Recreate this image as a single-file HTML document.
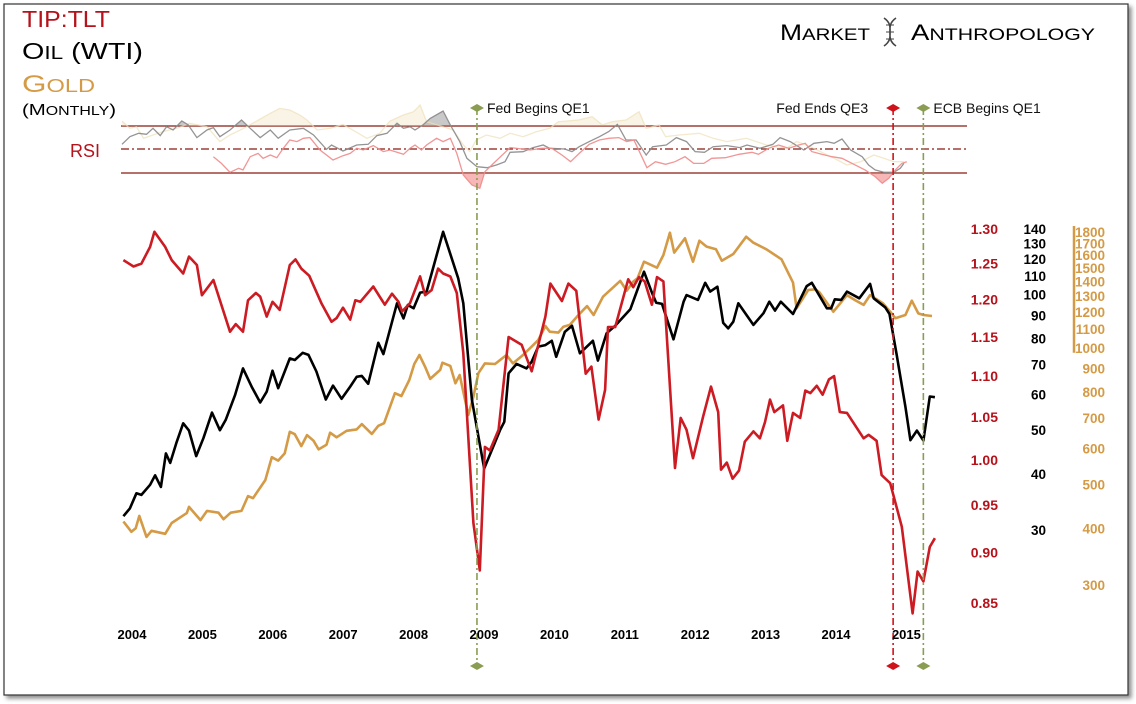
<!DOCTYPE html>
<html><head><meta charset="utf-8"><style>
body{margin:0;background:#fff;width:1136px;height:704px;overflow:hidden;font-family:"Liberation Sans",sans-serif}
svg{position:absolute;left:0;top:0}
</style></head><body>
<svg id="c" width="1136" height="704" viewBox="0 0 1136 704">
<defs>
<filter id="sh" x="-5%" y="-5%" width="110%" height="110%"><feDropShadow dx="3" dy="3" stdDeviation="2" flood-color="#000" flood-opacity="0.45"/></filter>
<clipPath id="above70"><rect x="0" y="0" width="1136" height="126"/></clipPath>
<clipPath id="below30"><rect x="0" y="173" width="1136" height="60"/></clipPath>
</defs>
<rect x="4" y="4" width="1124" height="691" fill="#fff" stroke="#333" stroke-width="1.2" filter="url(#sh)"/>
<g>
<text x="22" y="27" font-size="23" fill="#b5121b" textLength="88" lengthAdjust="spacingAndGlyphs">TIP:TLT</text>
<text x="22" y="59" font-size="23" fill="#000" textLength="121" lengthAdjust="spacingAndGlyphs">O<tspan font-size="18">IL</tspan> (WTI)</text>
<text x="22" y="92" font-size="24" fill="#d49a45" textLength="73" lengthAdjust="spacingAndGlyphs">G<tspan font-size="18">OLD</tspan></text>
<text x="22" y="115" font-size="16" fill="#000" textLength="94" lengthAdjust="spacingAndGlyphs">(M<tspan font-size="12.5">ONTHLY</tspan>)</text>
</g>
<text x="70" y="157" font-size="18" fill="#b5121b">RSI</text>
<g>
<text x="780" y="40" font-size="22" fill="#000" textLength="90" lengthAdjust="spacingAndGlyphs">M<tspan font-size="17">ARKET</tspan></text>
<text x="911" y="40" font-size="22" fill="#000" textLength="184" lengthAdjust="spacingAndGlyphs">A<tspan font-size="17">NTHROPOLOGY</tspan></text>
<g stroke="#444" stroke-width="1.6" fill="none">
<path d="M884 18 C897 27,883 37,896 46 M896 18 C883 27,897 37,884 46"/>
<path d="M886 25h8M886 32h8M886 39h8" stroke-width="1"/>
</g>
</g>
<g id="rsi">
<line x1="121" y1="126" x2="967" y2="126" stroke="#8b1a10" stroke-width="1.3"/>
<line x1="121" y1="149" x2="967" y2="149" stroke="#8b1a10" stroke-width="1.3" stroke-dasharray="8,3,2,3"/>
<line x1="121" y1="173" x2="967" y2="173" stroke="#8b1a10" stroke-width="1.3"/>
</g>
<g id="main"></g>
<g id="axes"></g>
</svg>
<script>
// ---- TIP:TLT ----
const tltDates=[2004.02,2004.16,2004.27,2004.39,2004.45,2004.60,2004.69,2004.85,2004.93,2005.04,2005.11,2005.27,2005.50,2005.58,2005.68,2005.75,2005.86,2005.92,2006.01,2006.09,2006.19,2006.33,2006.41,2006.49,2006.60,2006.77,2006.91,2006.98,2007.07,2007.17,2007.24,2007.31,2007.49,2007.65,2007.75,2007.84,2007.89,2008.00,2008.14,2008.21,2008.30,2008.39,2008.46,2008.56,2008.65,2008.74,2008.88,2008.97,2009.04,2009.11,2009.23,2009.37,2009.55,2009.69,2009.88,2009.95,2010.11,2010.20,2010.31,2010.44,2010.52,2010.62,2010.71,2010.75,2010.85,2011.03,2011.10,2011.18,2011.26,2011.36,2011.43,2011.52,2011.68,2011.76,2011.84,2011.93,2012.07,2012.18,2012.28,2012.32,2012.40,2012.48,2012.57,2012.65,2012.77,2012.86,2012.93,2013.00,2013.06,2013.18,2013.24,2013.32,2013.42,2013.49,2013.56,2013.65,2013.73,2013.82,2013.89,2013.97,2014.07,2014.30,2014.37,2014.48,2014.55,2014.67,2014.83,2014.98,2015.05,2015.13,2015.22,2015.29];
const tltValues=[1.255,1.246,1.250,1.274,1.296,1.274,1.255,1.236,1.260,1.248,1.206,1.227,1.157,1.167,1.157,1.199,1.209,1.204,1.177,1.197,1.186,1.248,1.256,1.243,1.233,1.195,1.170,1.175,1.189,1.173,1.199,1.197,1.218,1.193,1.208,1.197,1.184,1.195,1.232,1.206,1.213,1.243,1.236,1.232,1.209,1.129,0.931,0.882,1.015,1.011,1.035,1.150,1.140,1.106,1.177,1.222,1.198,1.222,1.212,1.103,1.112,1.047,1.083,1.163,1.163,1.228,1.217,1.231,1.225,1.193,1.231,1.225,0.991,1.049,1.035,1.002,1.050,1.087,1.056,0.989,0.997,0.979,0.988,1.021,1.033,1.025,1.044,1.071,1.056,1.064,1.022,1.055,1.049,1.082,1.079,1.088,1.077,1.096,1.100,1.056,1.055,1.025,1.029,1.022,0.983,0.974,0.927,0.840,0.881,0.871,0.906,0.915];
// ---- Oil ----
const oilDates=[2004.02,2004.11,2004.20,2004.27,2004.39,2004.46,2004.54,2004.61,2004.67,2004.76,2004.85,2004.93,2005.03,2005.13,2005.25,2005.36,2005.44,2005.57,2005.68,2005.80,2005.92,2006.01,2006.09,2006.17,2006.33,2006.40,2006.51,2006.59,2006.70,2006.83,2006.93,2007.05,2007.17,2007.26,2007.33,2007.42,2007.56,2007.63,2007.82,2007.91,2007.97,2008.05,2008.14,2008.23,2008.46,2008.67,2008.74,2008.86,2008.95,2009.03,2009.25,2009.31,2009.37,2009.48,2009.62,2009.69,2009.78,2009.88,2009.97,2010.03,2010.15,2010.25,2010.36,2010.54,2010.61,2010.73,2010.85,2011.06,2011.25,2011.36,2011.42,2011.50,2011.66,2011.80,2011.84,2012.00,2012.10,2012.17,2012.27,2012.35,2012.42,2012.49,2012.56,2012.77,2012.91,2012.99,2013.07,2013.15,2013.32,2013.51,2013.58,2013.79,2013.85,2013.90,2013.99,2014.07,2014.24,2014.39,2014.44,2014.60,2014.66,2014.76,2014.88,2014.95,2015.04,2015.13,2015.22,2015.29];
const oilValues=[32.2,33.5,36.2,35.9,37.8,39.7,37.4,44.4,42.3,47.1,51.8,49.9,43.8,48.0,54.7,50.0,52.7,59.8,68.6,62.5,57.6,60.9,67.8,62.0,72.2,71.6,74.3,73.5,67.5,58.5,62.8,58.7,62.5,65.7,66.0,63.4,78.2,73.8,95.7,88.6,94.9,93.3,101.1,101.6,138.0,108.8,95.7,58.4,48.4,41.1,50.0,52.2,66.9,70.2,68.6,71.0,76.7,77.3,79.0,72.8,82.7,85.3,74.1,79.0,71.4,82.1,85.3,92.8,112.5,101.1,96.0,95.4,79.6,96.5,99.8,97.4,106.3,101.6,104.2,86.6,84.2,87.1,95.7,85.7,91.0,96.5,92.2,96.5,90.6,104.5,106.3,93.3,93.3,97.7,97.4,101.6,98.2,105.7,98.2,93.8,90.6,73.5,56.4,47.5,49.9,47.4,59.4,59.2];
// ---- Gold ----
const goldDates=[2004.02,2004.13,2004.19,2004.24,2004.34,2004.41,2004.60,2004.69,2004.90,2004.93,2005.09,2005.18,2005.34,2005.41,2005.51,2005.66,2005.75,2005.82,2005.99,2006.08,2006.17,2006.26,2006.33,2006.40,2006.49,2006.57,2006.66,2006.73,2006.84,2006.89,2006.98,2007.12,2007.26,2007.33,2007.47,2007.56,2007.64,2007.79,2007.88,2007.99,2008.06,2008.13,2008.21,2008.28,2008.42,2008.45,2008.56,2008.63,2008.69,2008.81,2008.88,2008.95,2009.04,2009.18,2009.34,2009.43,2009.57,2009.69,2009.78,2009.88,2009.94,2010.06,2010.13,2010.22,2010.36,2010.46,2010.55,2010.68,2010.92,2011.01,2011.10,2011.16,2011.25,2011.43,2011.52,2011.61,2011.67,2011.82,2011.93,2012.02,2012.12,2012.25,2012.33,2012.49,2012.67,2012.77,2012.95,2013.16,2013.32,2013.37,2013.53,2013.63,2013.69,2013.79,2013.88,2014.07,2014.18,2014.30,2014.39,2014.57,2014.67,2014.74,2014.88,2014.97,2015.06,2015.13,2015.25];
const goldValues=[414,393,400,426,383,395,389,411,432,446,417,437,433,419,433,437,471,466,511,574,564,585,653,645,607,642,624,597,611,650,635,656,661,679,646,673,682,794,783,849,921,964,908,854,894,927,912,835,871,711,780,879,924,921,964,924,964,1006,1040,1117,1085,1080,1113,1123,1191,1236,1181,1296,1404,1336,1399,1423,1548,1502,1602,1794,1621,1743,1548,1722,1671,1649,1556,1610,1758,1705,1649,1567,1392,1222,1341,1346,1323,1257,1201,1307,1274,1243,1307,1253,1201,1162,1181,1270,1191,1181,1175];
// ---- RSI ----
const oilRsiDates=[2004.00,2004.11,2004.23,2004.34,2004.43,2004.53,2004.62,2004.71,2004.83,2004.92,2005.04,2005.18,2005.27,2005.36,2005.50,2005.66,2005.78,2005.92,2006.06,2006.17,2006.33,2006.52,2006.66,2006.84,2006.91,2007.07,2007.26,2007.42,2007.54,2007.68,2007.82,2007.91,2008.00,2008.07,2008.18,2008.28,2008.46,2008.56,2008.69,2008.79,2008.93,2009.07,2009.20,2009.32,2009.39,2009.57,2009.71,2009.85,2009.94,2010.15,2010.25,2010.35,2010.49,2010.63,2010.76,2010.88,2011.00,2011.14,2011.28,2011.37,2011.56,2011.70,2011.84,2011.96,2012.09,2012.21,2012.40,2012.58,2012.68,2012.86,2013.04,2013.14,2013.28,2013.47,2013.61,2013.79,2013.89,2014.00,2014.12,2014.28,2014.37,2014.46,2014.58,2014.72,2014.81,2014.86];
const oilRsiValues=[54.4,60.9,63.8,62.9,68.0,61.8,69.4,66.6,74.3,70.9,60.1,66.6,68.6,60.9,66.6,75.1,68.0,60.1,66.6,59.5,66.6,68.0,62.3,50.1,53.8,48.7,53.8,54.4,61.8,63.8,72.3,68.0,69.4,66.6,70.9,76.5,82.8,70.9,56.7,42.5,35.4,34.5,36.8,39.6,47.6,48.1,51.6,53.8,51.0,50.4,48.2,52.4,56.7,60.9,65.2,71.4,58.1,58.1,45.3,52.4,53.8,60.1,56.7,48.2,47.6,52.4,53.3,51.6,53.8,51.0,54.4,60.1,56.7,49.6,55.3,56.7,55.3,58.9,49.6,43.9,36.8,32.6,30.6,30.6,34.0,38.2];
const tltRsiDates=[2005.27,2005.38,2005.50,2005.62,2005.68,2005.78,2005.89,2005.96,2006.06,2006.15,2006.24,2006.33,2006.43,2006.52,2006.61,2006.75,2006.93,2007.07,2007.17,2007.26,2007.35,2007.49,2007.63,2007.72,2007.91,2008.00,2008.07,2008.16,2008.23,2008.37,2008.46,2008.56,2008.65,2008.74,2008.86,2008.97,2009.04,2009.16,2009.39,2009.67,2009.83,2009.97,2010.11,2010.23,2010.35,2010.49,2010.63,2010.76,2010.90,2011.01,2011.11,2011.22,2011.29,2011.41,2011.55,2011.68,2011.82,2011.94,2012.08,2012.19,2012.38,2012.57,2012.75,2012.84,2012.98,2013.12,2013.26,2013.40,2013.49,2013.58,2013.72,2013.86,2014.00,2014.14,2014.32,2014.46,2014.56,2014.65,2014.74,2014.83,2014.90];
const tltRsiValues=[43.9,38.2,30.6,34.0,32.6,43.9,46.7,42.5,45.3,43.0,51.0,58.1,56.7,59.5,60.1,49.6,41.1,44.7,46.7,51.0,49.6,53.3,48.2,49.6,45.9,51.0,53.8,49.6,53.8,59.5,56.7,59.5,46.7,28.3,19.8,17.0,31.1,38.2,51.6,49.6,51.0,51.0,45.3,39.6,46.7,54.4,58.1,59.5,60.1,56.7,58.1,43.9,34.5,39.6,37.4,39.6,43.9,38.2,38.2,42.5,43.0,45.9,47.6,45.9,51.0,53.8,51.0,53.8,55.3,48.2,45.9,43.9,42.5,38.2,32.6,26.9,21.2,25.5,32.6,38.2,39.6];
const goldRsiDates=[2004.00,2004.11,2004.20,2004.30,2004.43,2004.57,2004.76,2004.94,2005.18,2005.36,2005.50,2005.69,2005.87,2006.06,2006.19,2006.33,2006.47,2006.57,2006.71,2006.89,2007.07,2007.26,2007.40,2007.58,2007.72,2007.91,2008.05,2008.14,2008.23,2008.46,2008.60,2008.74,2008.83,2008.92,2009.06,2009.25,2009.39,2009.57,2009.76,2009.94,2010.06,2010.34,2010.53,2010.67,2010.81,2011.00,2011.18,2011.28,2011.46,2011.55,2011.74,2012.02,2012.21,2012.40,2012.67,2012.95,2013.23,2013.37,2013.51,2013.70,2013.89,2014.07,2014.26,2014.44,2014.58,2014.72,2014.86];
const goldRsiValues=[74.2,68.0,69.4,59.5,62.3,65.2,68.0,72.3,69.4,56.7,62.3,68.0,74.2,80.8,85.0,83.6,79.4,75.1,66.6,68.0,71.4,64.6,59.5,63.8,74.2,79.4,82.2,87.9,73.7,69.4,66.6,53.8,48.2,58.1,62.3,59.5,63.8,60.9,65.2,68.0,73.7,75.1,77.9,70.9,73.7,75.1,82.2,68.0,70.9,60.9,62.3,63.8,59.5,56.7,59.5,53.8,51.0,56.7,53.8,48.2,42.5,36.8,39.6,45.3,42.5,39.6,39.6];
// ---- Axes / events ----
const yearLabels=[2004,2005,2006,2007,2008,2009,2010,2011,2012,2013,2014,2015];
const tltTicks=[1.30,1.25,1.20,1.15,1.10,1.05,1.00,0.95,0.90,0.85];
const oilTicks=[140,130,120,110,100,90,80,70,60,50,40,30];
const goldTicks=[1800,1700,1600,1500,1400,1300,1200,1100,1000,900,800,700,600,500,400,300];
const eventDates=[2008.93,2014.71,2015.13];
const eventNames=["Fed Begins QE1","Fed Ends QE3","ECB Begins QE1"];
const eventColors=["#8a9d52","#d0121b","#8a9d52"];

const NS="http://www.w3.org/2000/svg";
const X=t=>122+(t-2004)*72;
const XL=y=>132+(y-2004)*70.4;
const YT=v=>460-Math.log(v)*880;
const YO=v=>229+Math.log(140/v)*195.4;
const YG=v=>232+Math.log(1800/v)*197;
const YR=v=>173-(v-30)*47/40;
const main=document.getElementById('main'), axes=document.getElementById('axes'), rsi=document.getElementById('rsi');
function mk(tag,attrs,parent){const e=document.createElementNS(NS,tag);for(const k in attrs)e.setAttribute(k,attrs[k]);parent.appendChild(e);return e;}
function pts(ds,vs,ys){return ds.map((d,i)=>X(d).toFixed(1)+','+ys(vs[i]).toFixed(1));}

function rsiFill(ds,vs,base,clip,color,op,name){
  const p=pts(ds,vs,YR);
  const d='M'+X(ds[0]).toFixed(1)+','+YR(base)+' L'+p.join(' L')+' L'+X(ds[ds.length-1]).toFixed(1)+','+YR(base)+'Z';
  const e=mk('path',{d:d,fill:color,'fill-opacity':op,'clip-path':'url(#'+clip+')'},rsi);
  
  
}
rsiFill(goldRsiDates,goldRsiValues,70,'above70','#eedfb8',0.35,'gold-rsi-overbought-fill');
rsiFill(oilRsiDates,oilRsiValues,70,'above70','#888',0.45,'oil-rsi-overbought-fill');
rsiFill(oilRsiDates,oilRsiValues,30,'below30','#777',0.5,'oil-rsi-oversold-fill');
rsiFill(tltRsiDates,tltRsiValues,30,'below30','#f07070',0.5,'tlt-rsi-oversold-fill');
function rsiLine(ds,vs,color,op,name){
  const e=mk('polyline',{points:pts(ds,vs,YR).join(' '),fill:'none',stroke:color,'stroke-opacity':op,'stroke-width':1.3},rsi);
  
  
}
rsiLine(goldRsiDates,goldRsiValues,'#eedfb8',0.7,'gold-rsi-line');
rsiLine(oilRsiDates,oilRsiValues,'#888',0.9,'oil-rsi-line');
rsiLine(tltRsiDates,tltRsiValues,'#f08a8a',0.9,'tlt-rsi-line');

eventDates.forEach((d,i)=>{
  const x=X(d);
  const ln=mk('line',{x1:x,y1:108,x2:x,y2:666,stroke:eventColors[i],'stroke-width':1.6,'stroke-dasharray':'7,3,2,3'},axes);
  
  
  [108,666].forEach((y,j)=>{
    const dm=mk('path',{d:`M${x-7},${y} L${x},${y-4} L${x+7},${y} L${x},${y+4}Z`,fill:eventColors[i]},axes);
    
    
  });
  const right=(i===1);
  const tx=mk('text',{x:right?x-25:x+10,y:113,'font-size':14,fill:'#111','text-anchor':right?'end':'start'},axes);
  tx.textContent=eventNames[i];
  
  
});

function series(ds,vs,ys,color,name){
  const e=mk('polyline',{points:pts(ds,vs,ys).join(' '),fill:'none',stroke:color,'stroke-width':2.6,'stroke-linejoin':'round'},main);
  
  
}
series(goldDates,goldValues,YG,'#d49a45','gold-line');
series(oilDates,oilValues,YO,'#000','oil-line');
series(tltDates,tltValues,YT,'#cc1b22','tip-tlt-line');

yearLabels.forEach(y=>{
  const t=mk('text',{x:XL(y),y:639,'font-size':13,'font-weight':'bold','text-anchor':'middle',fill:'#000'},axes);
  t.textContent=y;
  
  
});
tltTicks.forEach(v=>{
  const t=mk('text',{x:998,y:YT(v)+5,'font-size':14,'font-weight':'bold','text-anchor':'end',fill:'#b5121b'},axes);
  t.textContent=v.toFixed(2);
  
  
});
oilTicks.forEach(v=>{
  const t=mk('text',{x:1046,y:YO(v)+5,'font-size':13.5,'font-weight':'bold','text-anchor':'end',fill:'#000'},axes);
  t.textContent=v;
  
  
});
goldTicks.forEach(v=>{
  const t=mk('text',{x:1105,y:YG(v)+5,'font-size':13.5,'font-weight':'bold','text-anchor':'end',fill:'#d49a45'},axes);
  t.textContent=v;
  
  
});
const gb=mk('line',{x1:1074,y1:YG(1800)-6,x2:1074,y2:YG(1000)+5,stroke:'#d49a45','stroke-width':2.5},axes);


</script>
</body></html>
